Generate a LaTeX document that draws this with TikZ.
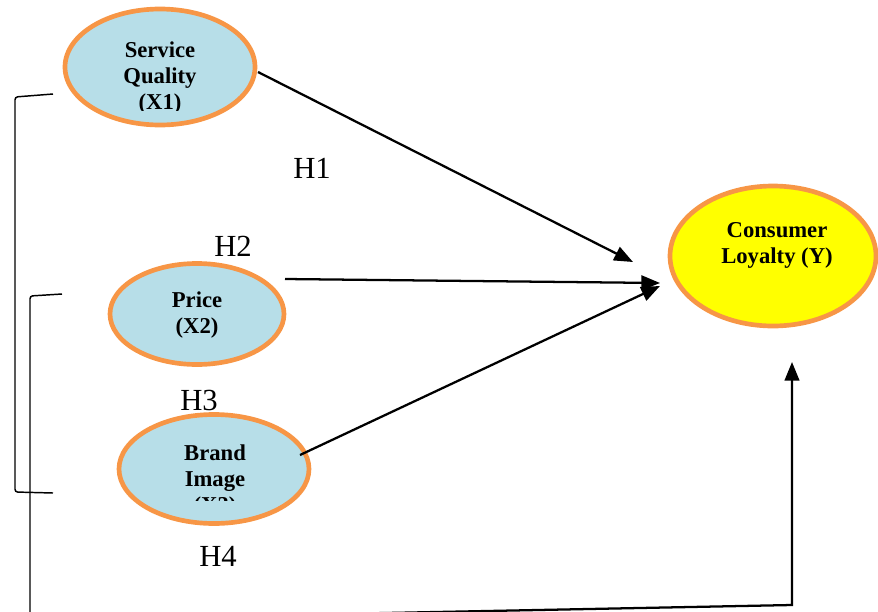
\documentclass[tikz,border=0pt]{standalone}
\usepackage{fontspec}
\setmainfont{Liberation Serif}
\usetikzlibrary{shapes.geometric,arrows.meta}
\definecolor{lblue}{RGB}{183,222,232}
\definecolor{orng}{RGB}{247,150,70}
\definecolor{yell}{RGB}{255,255,0}
\tikzset{
  var/.style={ellipse, draw=orng, line width=3.5pt, fill=lblue, inner sep=0pt},
  vtext/.style={align=center, inner sep=0pt, font=\fontsize{17}{19.5}\selectfont\bfseries},
  hlab/.style={inner sep=0pt, font=\fontsize{23}{26}\selectfont},
  arr/.style={line width=1.7pt, -{Triangle[length=14pt,width=11pt]}},
  brk/.style={line width=1.1pt, rounded corners=2pt}
}
\begin{document}
\begin{tikzpicture}[x=0.75pt,y=-0.75pt]
\useasboundingbox (0,0) rectangle (878,611);
\clip (0,0) rectangle (878,611);
% ellipses
\node[var, minimum width=142.5pt, minimum height=87pt] (sq) at (160,67) {};
\node[var, minimum width=130.5pt, minimum height=75.75pt] (pr) at (197,314) {};
\node[var, minimum width=142.5pt, minimum height=81.75pt] (bi) at (214,469) {};
\node[var, fill=yell, minimum width=154.5pt, minimum height=105pt] (cl) at (773,256) {};
% texts
\begin{scope}
\clip (0,0) rectangle (878,110.5);
\node[vtext] (sqt) at (160,78.5) {Service\\Quality\\(X1)};
\end{scope}
\node[vtext] (prt) at (197,315.5) {Price\\(X2)};
\begin{scope}
\clip (0,430) rectangle (878,500);
\node[vtext] (bit) at (215,481.5) {Brand\\Image\\(X3)};
\end{scope}
\node[vtext] (clt) at (777,245.5) {Consumer\\Loyalty (Y)};
% hypothesis labels
\node[hlab] (h1) at (312,168) {H1};
\node[hlab] (h2) at (233,246) {H2};
\node[hlab] (h3) at (199,400) {H3};
\node[hlab] (h4) at (218,556) {H4};
% arrow points
\coordinate (s1) at (258,72);
\coordinate (e1) at (633,262);
\coordinate (s2) at (285,279);
\coordinate (e2) at (660,283);
\coordinate (s3) at (300,455);
\coordinate (e3) at (660,286);
\draw[arr] (s1) -- (e1);
\draw[arr] (s2) -- (e2);
\draw[arr] (s3) -- (e3);
% brackets
\coordinate (b1a) at (53,94);
\coordinate (b1b) at (15,97);
\coordinate (b1c) at (15,492);
\coordinate (b1d) at (53,493);
\draw[brk] (b1a) -- (b1b) -- (b1c) -- (b1d);
\coordinate (b2a) at (62,294);
\coordinate (b2b) at (30,296);
\coordinate (b2c) at (30,620);
\coordinate (b2d) at (792,605);
\coordinate (b2e) at (792,362);
\draw[brk] (b2a) -- (b2b) -- (b2c);
\draw[arr] (b2c) -- (b2d) -- (b2e);
\end{tikzpicture}
\end{document}
